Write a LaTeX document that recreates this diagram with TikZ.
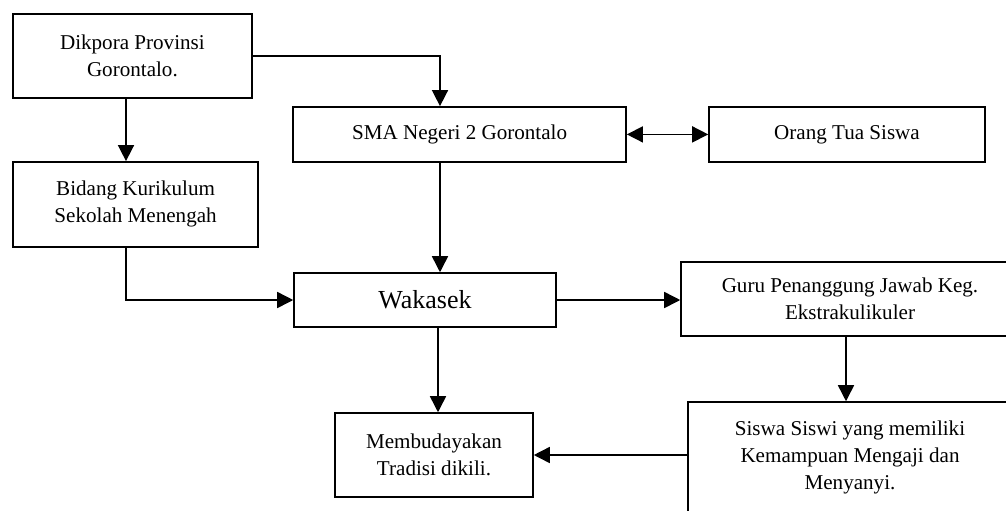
\documentclass[tikz,border=0pt]{standalone}
\usepackage{fontspec}
\setmainfont{Liberation Serif}
\usetikzlibrary{arrows.meta}

\begin{document}
\begin{tikzpicture}[line width=1.1pt,>={Triangle[length=4mm,width=4mm]},
			every node/.style={font=\fontsize{15}{19.2}\selectfont},
			box/.style={draw,align=center,inner sep=0pt},
			big/.style={font=\fontsize{18.5}{22}\selectfont}]

		\useasboundingbox (0,0) rectangle (25.15,-12.75);

		\node [box, minimum width=5.975cm, minimum height=2.1cm] (dik) at (3.31,-1.4) {Dikpora Provinsi\\Gorontalo.};
		\node [box, minimum width=6.125cm, minimum height=2.125cm] (bid) at (3.39,-5.11) {Bidang Kurikulum\\Sekolah Menengah};
		\node [box, minimum width=8.325cm, minimum height=1.375cm] (sma) at (11.49,-3.36) {SMA Negeri 2 Gorontalo};
		\node [box, minimum width=6.9cm, minimum height=1.375cm] (ortu) at (21.175,-3.36) {Orang Tua Siswa};
		\node [box, big, minimum width=6.55cm, minimum height=1.35cm] (wak) at (10.625,-7.5) {Wakasek};
		\node [box, minimum width=8.45cm, minimum height=1.85cm] (guru) at (21.25,-7.475) {Guru Penanggung Jawab Keg.\\Ekstrakulikuler};
		\node [box, minimum width=8.1cm, minimum height=2.75cm] (sis) at (21.25,-11.425) {Siswa Siswi yang memiliki\\Kemampuan Mengaji dan\\Menyanyi.};
		\node [box, minimum width=4.95cm, minimum height=2.1cm] (bud) at (10.85,-11.375) {Membudayakan\\Tradisi dikili.};

		\draw [->] (dik.east) -| ([xshift=-0.49cm]sma.north);
		\draw [->] ([xshift=-0.16cm]dik.south) -- ([xshift=-0.16cm]dik.south |- bid.north);
		\draw [<->] (sma.east) -- (ortu.west);
		\draw [->] ([xshift=-0.49cm]sma.south) -- ([xshift=-0.49cm]sma.south |- wak.north);
		\draw [->] ([xshift=-0.24cm]bid.south) |- (wak.west);
		\draw [->] (wak.east) -- (guru.west |- wak.east);
		\draw [->] ([xshift=0.1cm]bud.north |- wak.south) -- ([xshift=0.1cm]bud.north);
		\draw [->] ([xshift=-0.1cm]guru.south) -- ([xshift=-0.1cm]guru.south |- sis.north);
		\draw [->] (bud.east -| sis.west) -- (bud.east);

\end{tikzpicture}
\end{document}
